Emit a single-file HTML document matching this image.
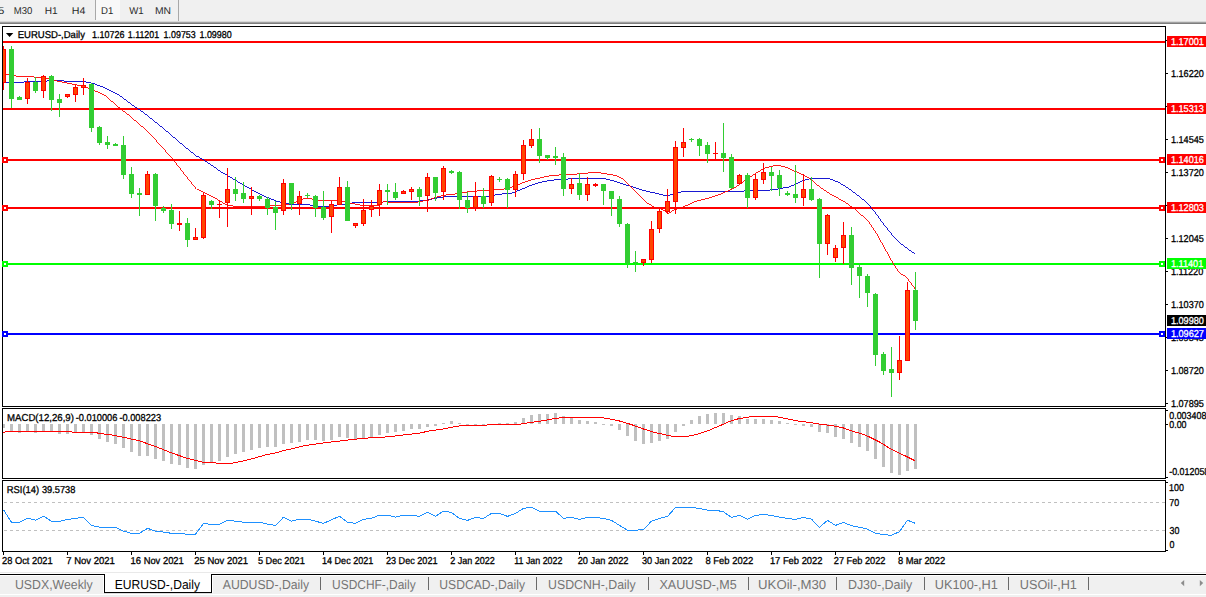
<!DOCTYPE html>
<html><head><meta charset="utf-8"><title>EURUSD-,Daily</title>
<style>
html,body{margin:0;padding:0;background:#fff;}
body{width:1206px;height:597px;overflow:hidden;position:relative;font-family:"Liberation Sans", sans-serif;}
svg{position:absolute;left:0;top:0;display:block}
text{font-family:"Liberation Sans", sans-serif;text-rendering:geometricPrecision;}
</style></head><body>
<svg width="1206" height="597" viewBox="0 0 1206 597">

<g shape-rendering="crispEdges">
<rect x="0" y="0" width="1206" height="21" fill="#f0f0f0"/>
<rect x="0" y="21" width="1206" height="1" fill="#d9d9d9"/>
<rect x="0" y="22" width="1206" height="1" fill="#a0a0a0"/>
<rect x="0" y="23" width="1206" height="1" fill="#7d7d7d"/>
<rect x="96" y="0" width="24" height="20" fill="#f8f8f8"/>
<rect x="95" y="0" width="1" height="20" fill="#a8a8a8"/>
<rect x="178" y="0" width="1" height="21" fill="#a8a8a8"/>
</g>
<text transform="translate(-1.96,14) scale(1.139,1)" font-size="10" fill="#2a2a2a" stroke="#2a2a2a" stroke-width="0">5</text>
<text transform="translate(13.82,14) scale(0.954,1)" font-size="10" fill="#2a2a2a" stroke="#2a2a2a" stroke-width="0">M30</text>
<text transform="translate(44.77,14) scale(1.011,1)" font-size="10" fill="#2a2a2a" stroke="#2a2a2a" stroke-width="0">H1</text>
<text transform="translate(71.73,14) scale(1.063,1)" font-size="10" fill="#2a2a2a" stroke="#2a2a2a" stroke-width="0">H4</text>
<text transform="translate(101.11,14) scale(0.959,1)" font-size="10" fill="#2a2a2a" stroke="#2a2a2a" stroke-width="0">D1</text>
<text transform="translate(129.16,14) scale(0.961,1)" font-size="10" fill="#2a2a2a" stroke="#2a2a2a" stroke-width="0">W1</text>
<text transform="translate(154.95,14) scale(1.035,1)" font-size="10" fill="#2a2a2a" stroke="#2a2a2a" stroke-width="0">MN</text>
<g shape-rendering="crispEdges" fill="none" stroke="#000" stroke-width="1">
<rect x="2.5" y="26.5" width="1163" height="380"/>
<rect x="2.5" y="408.5" width="1163" height="70"/>
<rect x="2.5" y="480.5" width="1163" height="71"/>
</g>
<defs><clipPath id="cm"><rect x="3" y="27" width="1162" height="379"/></clipPath></defs>
<g shape-rendering="crispEdges">
<rect x="1166" y="40" width="2" height="1" fill="#000"/>
<rect x="1166" y="73" width="2" height="1" fill="#000"/>
<rect x="1166" y="106" width="2" height="1" fill="#000"/>
<rect x="1166" y="139" width="2" height="1" fill="#000"/>
<rect x="1166" y="172" width="2" height="1" fill="#000"/>
<rect x="1166" y="205" width="2" height="1" fill="#000"/>
<rect x="1166" y="238" width="2" height="1" fill="#000"/>
<rect x="1166" y="271" width="2" height="1" fill="#000"/>
<rect x="1166" y="304" width="2" height="1" fill="#000"/>
<rect x="1166" y="337" width="2" height="1" fill="#000"/>
<rect x="1166" y="370" width="2" height="1" fill="#000"/>
<rect x="1166" y="403" width="2" height="1" fill="#000"/>
</g>
<text transform="translate(1170.91,77) scale(0.912,1)" font-size="10" fill="#000" stroke="#000" stroke-width="0.3">1.16220</text>
<text transform="translate(1170.91,143) scale(0.912,1)" font-size="10" fill="#000" stroke="#000" stroke-width="0.3">1.14545</text>
<text transform="translate(1170.91,176) scale(0.912,1)" font-size="10" fill="#000" stroke="#000" stroke-width="0.3">1.13720</text>
<text transform="translate(1170.91,242) scale(0.912,1)" font-size="10" fill="#000" stroke="#000" stroke-width="0.3">1.12045</text>
<text transform="translate(1170.91,275) scale(0.912,1)" font-size="10" fill="#000" stroke="#000" stroke-width="0.3">1.11220</text>
<text transform="translate(1170.91,308) scale(0.912,1)" font-size="10" fill="#000" stroke="#000" stroke-width="0.3">1.10370</text>
<text transform="translate(1170.91,341) scale(0.912,1)" font-size="10" fill="#000" stroke="#000" stroke-width="0.3">1.09545</text>
<text transform="translate(1170.91,374) scale(0.912,1)" font-size="10" fill="#000" stroke="#000" stroke-width="0.3">1.08720</text>
<text transform="translate(1170.91,407) scale(0.912,1)" font-size="10" fill="#000" stroke="#000" stroke-width="0.3">1.07895</text>
<g shape-rendering="crispEdges">
<rect x="3" y="41" width="1162" height="2" fill="#ff0000"/>
<rect x="1167" y="36" width="39" height="11" fill="#ff0000"/>
<rect x="3" y="108" width="1162" height="2" fill="#ff0000"/>
<rect x="1167" y="103" width="39" height="11" fill="#ff0000"/>
<rect x="3" y="159" width="1162" height="2" fill="#ff0000"/>
<rect x="1167" y="154" width="39" height="11" fill="#ff0000"/>
<rect x="2" y="157" width="6" height="6" fill="#ff0000"/>
<rect x="4" y="159" width="2" height="2" fill="#fff"/>
<rect x="1159" y="157" width="6" height="6" fill="#ff0000"/>
<rect x="1161" y="159" width="2" height="2" fill="#fff"/>
<rect x="3" y="207" width="1162" height="2" fill="#ff0000"/>
<rect x="1167" y="202" width="39" height="11" fill="#ff0000"/>
<rect x="2" y="205" width="6" height="6" fill="#ff0000"/>
<rect x="4" y="207" width="2" height="2" fill="#fff"/>
<rect x="1159" y="205" width="6" height="6" fill="#ff0000"/>
<rect x="1161" y="207" width="2" height="2" fill="#fff"/>
<rect x="3" y="263" width="1162" height="2" fill="#00ff00"/>
<rect x="1167" y="258" width="39" height="11" fill="#00ff00"/>
<rect x="2" y="261" width="6" height="6" fill="#00ff00"/>
<rect x="4" y="263" width="2" height="2" fill="#fff"/>
<rect x="1159" y="261" width="6" height="6" fill="#00ff00"/>
<rect x="1161" y="263" width="2" height="2" fill="#fff"/>
<rect x="3" y="333" width="1162" height="2" fill="#0000ff"/>
<rect x="1167" y="328" width="39" height="11" fill="#0000ff"/>
<rect x="2" y="331" width="6" height="6" fill="#0000ff"/>
<rect x="4" y="333" width="2" height="2" fill="#fff"/>
<rect x="1159" y="331" width="6" height="6" fill="#0000ff"/>
<rect x="1161" y="333" width="2" height="2" fill="#fff"/>
<rect x="1167" y="315" width="39" height="11" fill="#000"/>
</g>
<text transform="translate(1170.90,45) scale(0.914,1)" font-size="10" fill="#fff" stroke="#fff" stroke-width="0.3">1.17001</text>
<text transform="translate(1170.90,112) scale(0.913,1)" font-size="10" fill="#fff" stroke="#fff" stroke-width="0.3">1.15313</text>
<text transform="translate(1170.90,163) scale(0.913,1)" font-size="10" fill="#fff" stroke="#fff" stroke-width="0.3">1.14016</text>
<text transform="translate(1170.90,211) scale(0.913,1)" font-size="10" fill="#fff" stroke="#fff" stroke-width="0.3">1.12803</text>
<text transform="translate(1170.90,267) scale(0.914,1)" font-size="10" fill="#fff" stroke="#fff" stroke-width="0.3">1.11401</text>
<text transform="translate(1170.90,337) scale(0.914,1)" font-size="10" fill="#fff" stroke="#fff" stroke-width="0.3">1.09627</text>
<text transform="translate(1170.91,324) scale(0.912,1)" font-size="10" fill="#fff" stroke="#fff" stroke-width="0.3">1.09980</text>
<g clip-path="url(#cm)" shape-rendering="crispEdges">
<polyline points="3.0,82.6 22.8,82.6 24.5,81.5 45.6,81.5 48.3,80.3 63.0,80.3 64.5,81.1 83.1,81.1 87.1,82.2 93.8,83.6 104.6,87.8 115.3,93.0 120.6,96.3 132.7,105.3 144.7,113.4 165.3,130.0 180.4,143.1 196.5,156.1 204.5,161.2 216.6,169.2 228.6,176.2 240.7,183.3 252.8,190.3 264.8,196.3 276.9,201.4 289.0,204.0 301.0,204.4 309.0,204.8 317.0,206.4 329.0,206.0 342.0,204.4 354.0,202.8 362.0,202.0 370.0,202.8 378.0,202.4 390.0,201.4 406.0,201.8 418.0,201.4 426.5,200.0 434.5,198.4 442.6,196.8 454.6,196.4 474.7,196.4 490.8,196.0 496.8,194.4 510.9,193.4 519.0,190.4 531.0,185.3 539.0,182.7 551.0,180.3 561.0,179.3 567.0,179.3 571.0,178.3 603.0,178.3 615.3,181.3 627.4,185.3 639.4,189.3 651.5,192.4 663.5,195.4 671.6,194.8 683.6,191.4 735.9,191.4 748.0,190.8 764.0,190.8 776.0,189.3 788.0,187.2 796.0,184.2 804.0,180.2 812.0,178.1 828.0,178.1 838.3,182.2 848.3,188.2 860.4,197.2 868.4,204.3 876.5,214.3 884.5,225.4 892.6,235.4 900.6,243.5 908.6,249.5 914.7,253.5" fill="none" stroke="#0000cd" stroke-width="0.9"/>
<polyline points="3.0,74.2 8.0,74.6 13.4,75.2 17.4,76.3 30.0,76.8 40.2,77.3 48.3,78.3 53.6,80.2 63.0,82.2 75.1,84.5 85.8,86.9 96.5,91.8 107.2,97.2 118.0,106.8 128.7,115.0 140.7,125.4 146.2,130.0 160.3,145.1 174.4,161.2 184.4,174.2 196.5,189.3 204.5,193.3 216.6,199.3 226.6,204.8 232.7,206.0 253.0,206.5 281.0,205.4 293.0,203.4 301.0,199.3 309.0,198.3 317.0,200.0 329.0,200.4 342.0,201.4 352.0,203.4 362.0,205.4 370.0,205.4 380.0,205.4 384.0,201.4 392.0,202.8 406.0,202.8 418.0,202.0 426.5,200.4 434.5,197.4 442.6,195.4 454.6,194.0 466.7,192.0 478.7,190.8 490.8,190.8 494.8,189.3 502.9,189.3 510.9,187.3 523.0,182.7 531.0,179.9 543.0,177.3 553.0,175.3 561.0,174.9 567.0,174.7 579.0,173.9 595.0,172.3 603.0,173.3 615.3,175.3 623.3,179.3 631.4,187.3 639.4,195.4 647.5,203.4 653.5,207.4 659.5,208.4 667.6,213.5 675.6,209.4 683.6,206.8 695.7,201.4 707.8,198.4 719.8,194.4 731.9,189.3 739.9,184.3 748.0,178.3 756.0,173.3 764.0,168.2 772.0,166.2 778.0,165.2 786.0,167.2 792.0,170.1 804.0,175.1 812.0,180.2 820.0,187.2 832.0,195.2 844.0,201.3 856.4,210.3 868.4,221.4 876.5,233.4 884.5,248.0 893.8,264.7 900.5,274.1 907.2,278.2 915.8,289.7" fill="none" stroke="#ff0000" stroke-width="0.9"/>
</g>
<g shape-rendering="crispEdges" clip-path="url(#cm)">
<rect x="3" y="46" width="1" height="44" fill="#ff0000"/>
<rect x="1" y="49" width="5" height="34" fill="#ff0000"/>
<rect x="2" y="50" width="3" height="32" fill="#ff4500"/>
<rect x="11" y="46" width="1" height="62" fill="#32cd32"/>
<rect x="9" y="49" width="5" height="50" fill="#32cd32"/>
<rect x="19" y="96" width="1" height="4" fill="#32cd32"/>
<rect x="17" y="97" width="5" height="3" fill="#32cd32"/>
<rect x="27" y="78" width="1" height="26" fill="#ff0000"/>
<rect x="25" y="82" width="5" height="17" fill="#ff0000"/>
<rect x="26" y="83" width="3" height="15" fill="#ff4500"/>
<rect x="35" y="77" width="1" height="16" fill="#32cd32"/>
<rect x="33" y="82" width="5" height="9" fill="#32cd32"/>
<rect x="43" y="75" width="1" height="23" fill="#ff0000"/>
<rect x="41" y="76" width="5" height="15" fill="#ff0000"/>
<rect x="42" y="77" width="3" height="13" fill="#ff4500"/>
<rect x="51" y="75" width="1" height="36" fill="#32cd32"/>
<rect x="49" y="76" width="5" height="24" fill="#32cd32"/>
<rect x="59" y="94" width="1" height="23" fill="#32cd32"/>
<rect x="57" y="99" width="5" height="4" fill="#32cd32"/>
<rect x="67" y="94" width="1" height="4" fill="#ff0000"/>
<rect x="65" y="94" width="5" height="3" fill="#ff0000"/>
<rect x="66" y="95" width="3" height="1" fill="#ff4500"/>
<rect x="75" y="85" width="1" height="17" fill="#ff0000"/>
<rect x="73" y="87" width="5" height="8" fill="#ff0000"/>
<rect x="74" y="88" width="3" height="6" fill="#ff4500"/>
<rect x="83" y="78" width="1" height="17" fill="#ff0000"/>
<rect x="81" y="85" width="5" height="3" fill="#ff0000"/>
<rect x="82" y="86" width="3" height="1" fill="#ff4500"/>
<rect x="91" y="83" width="1" height="49" fill="#32cd32"/>
<rect x="89" y="84" width="5" height="44" fill="#32cd32"/>
<rect x="99" y="126" width="1" height="19" fill="#32cd32"/>
<rect x="97" y="127" width="5" height="16" fill="#32cd32"/>
<rect x="107" y="136" width="1" height="13" fill="#32cd32"/>
<rect x="105" y="142" width="5" height="3" fill="#32cd32"/>
<rect x="115" y="143" width="1" height="3" fill="#32cd32"/>
<rect x="113" y="144" width="5" height="2" fill="#32cd32"/>
<rect x="123" y="136" width="1" height="43" fill="#32cd32"/>
<rect x="121" y="145" width="5" height="30" fill="#32cd32"/>
<rect x="131" y="167" width="1" height="31" fill="#32cd32"/>
<rect x="129" y="174" width="5" height="20" fill="#32cd32"/>
<rect x="139" y="188" width="1" height="28" fill="#32cd32"/>
<rect x="137" y="193" width="5" height="2" fill="#32cd32"/>
<rect x="147" y="171" width="1" height="24" fill="#ff0000"/>
<rect x="145" y="174" width="5" height="21" fill="#ff0000"/>
<rect x="146" y="175" width="3" height="19" fill="#ff4500"/>
<rect x="155" y="173" width="1" height="48" fill="#32cd32"/>
<rect x="153" y="174" width="5" height="32" fill="#32cd32"/>
<rect x="163" y="206" width="1" height="7" fill="#32cd32"/>
<rect x="161" y="208" width="5" height="3" fill="#32cd32"/>
<rect x="171" y="204" width="1" height="25" fill="#32cd32"/>
<rect x="169" y="210" width="5" height="14" fill="#32cd32"/>
<rect x="179" y="211" width="1" height="20" fill="#ff0000"/>
<rect x="177" y="223" width="5" height="2" fill="#ff0000"/>
<rect x="187" y="218" width="1" height="29" fill="#32cd32"/>
<rect x="185" y="223" width="5" height="17" fill="#32cd32"/>
<rect x="195" y="228" width="1" height="12" fill="#ff0000"/>
<rect x="193" y="237" width="5" height="3" fill="#ff0000"/>
<rect x="194" y="238" width="3" height="1" fill="#ff4500"/>
<rect x="203" y="193" width="1" height="46" fill="#ff0000"/>
<rect x="201" y="195" width="5" height="43" fill="#ff0000"/>
<rect x="202" y="196" width="3" height="41" fill="#ff4500"/>
<rect x="211" y="200" width="1" height="9" fill="#32cd32"/>
<rect x="209" y="201" width="5" height="4" fill="#32cd32"/>
<rect x="219" y="201" width="1" height="17" fill="#ff0000"/>
<rect x="217" y="204" width="5" height="1" fill="#ff0000"/>
<rect x="227" y="168" width="1" height="59" fill="#ff0000"/>
<rect x="225" y="189" width="5" height="14" fill="#ff0000"/>
<rect x="226" y="190" width="3" height="12" fill="#ff4500"/>
<rect x="235" y="177" width="1" height="24" fill="#32cd32"/>
<rect x="233" y="189" width="5" height="5" fill="#32cd32"/>
<rect x="243" y="182" width="1" height="21" fill="#32cd32"/>
<rect x="241" y="193" width="5" height="6" fill="#32cd32"/>
<rect x="251" y="187" width="1" height="28" fill="#ff0000"/>
<rect x="249" y="196" width="5" height="3" fill="#ff0000"/>
<rect x="250" y="197" width="3" height="1" fill="#ff4500"/>
<rect x="259" y="195" width="1" height="6" fill="#32cd32"/>
<rect x="257" y="196" width="5" height="3" fill="#32cd32"/>
<rect x="267" y="197" width="1" height="18" fill="#32cd32"/>
<rect x="265" y="199" width="5" height="9" fill="#32cd32"/>
<rect x="275" y="201" width="1" height="29" fill="#32cd32"/>
<rect x="273" y="207" width="5" height="6" fill="#32cd32"/>
<rect x="283" y="179" width="1" height="36" fill="#ff0000"/>
<rect x="281" y="183" width="5" height="28" fill="#ff0000"/>
<rect x="282" y="184" width="3" height="26" fill="#ff4500"/>
<rect x="291" y="183" width="1" height="27" fill="#32cd32"/>
<rect x="289" y="183" width="5" height="21" fill="#32cd32"/>
<rect x="299" y="191" width="1" height="24" fill="#ff0000"/>
<rect x="297" y="196" width="5" height="8" fill="#ff0000"/>
<rect x="298" y="197" width="3" height="6" fill="#ff4500"/>
<rect x="307" y="193" width="1" height="5" fill="#32cd32"/>
<rect x="305" y="195" width="5" height="1" fill="#32cd32"/>
<rect x="315" y="195" width="1" height="22" fill="#32cd32"/>
<rect x="313" y="196" width="5" height="12" fill="#32cd32"/>
<rect x="323" y="191" width="1" height="29" fill="#32cd32"/>
<rect x="321" y="207" width="5" height="11" fill="#32cd32"/>
<rect x="331" y="201" width="1" height="32" fill="#ff0000"/>
<rect x="329" y="204" width="5" height="13" fill="#ff0000"/>
<rect x="330" y="205" width="3" height="11" fill="#ff4500"/>
<rect x="339" y="177" width="1" height="28" fill="#ff0000"/>
<rect x="337" y="187" width="5" height="18" fill="#ff0000"/>
<rect x="338" y="188" width="3" height="16" fill="#ff4500"/>
<rect x="347" y="181" width="1" height="40" fill="#32cd32"/>
<rect x="345" y="187" width="5" height="34" fill="#32cd32"/>
<rect x="355" y="223" width="1" height="5" fill="#ff0000"/>
<rect x="353" y="223" width="5" height="3" fill="#ff0000"/>
<rect x="354" y="224" width="3" height="1" fill="#ff4500"/>
<rect x="363" y="199" width="1" height="27" fill="#ff0000"/>
<rect x="361" y="210" width="5" height="14" fill="#ff0000"/>
<rect x="362" y="211" width="3" height="12" fill="#ff4500"/>
<rect x="371" y="200" width="1" height="17" fill="#ff0000"/>
<rect x="369" y="206" width="5" height="4" fill="#ff0000"/>
<rect x="370" y="207" width="3" height="2" fill="#ff4500"/>
<rect x="379" y="184" width="1" height="32" fill="#ff0000"/>
<rect x="377" y="190" width="5" height="15" fill="#ff0000"/>
<rect x="378" y="191" width="3" height="13" fill="#ff4500"/>
<rect x="387" y="184" width="1" height="21" fill="#32cd32"/>
<rect x="385" y="190" width="5" height="2" fill="#32cd32"/>
<rect x="395" y="183" width="1" height="17" fill="#32cd32"/>
<rect x="393" y="192" width="5" height="6" fill="#32cd32"/>
<rect x="403" y="190" width="1" height="4" fill="#ff0000"/>
<rect x="401" y="191" width="5" height="3" fill="#ff0000"/>
<rect x="402" y="192" width="3" height="1" fill="#ff4500"/>
<rect x="411" y="187" width="1" height="13" fill="#ff0000"/>
<rect x="409" y="189" width="5" height="3" fill="#ff0000"/>
<rect x="410" y="190" width="3" height="1" fill="#ff4500"/>
<rect x="419" y="187" width="1" height="19" fill="#32cd32"/>
<rect x="417" y="189" width="5" height="8" fill="#32cd32"/>
<rect x="427" y="173" width="1" height="39" fill="#ff0000"/>
<rect x="425" y="177" width="5" height="19" fill="#ff0000"/>
<rect x="426" y="178" width="3" height="17" fill="#ff4500"/>
<rect x="435" y="177" width="1" height="24" fill="#32cd32"/>
<rect x="433" y="177" width="5" height="16" fill="#32cd32"/>
<rect x="443" y="166" width="1" height="34" fill="#ff0000"/>
<rect x="441" y="168" width="5" height="24" fill="#ff0000"/>
<rect x="442" y="169" width="3" height="22" fill="#ff4500"/>
<rect x="451" y="170" width="1" height="4" fill="#32cd32"/>
<rect x="449" y="171" width="5" height="2" fill="#32cd32"/>
<rect x="459" y="171" width="1" height="38" fill="#32cd32"/>
<rect x="457" y="172" width="5" height="28" fill="#32cd32"/>
<rect x="467" y="192" width="1" height="21" fill="#32cd32"/>
<rect x="465" y="200" width="5" height="8" fill="#32cd32"/>
<rect x="475" y="182" width="1" height="29" fill="#ff0000"/>
<rect x="473" y="196" width="5" height="12" fill="#ff0000"/>
<rect x="474" y="197" width="3" height="10" fill="#ff4500"/>
<rect x="483" y="188" width="1" height="20" fill="#32cd32"/>
<rect x="481" y="196" width="5" height="8" fill="#32cd32"/>
<rect x="491" y="175" width="1" height="31" fill="#ff0000"/>
<rect x="489" y="176" width="5" height="27" fill="#ff0000"/>
<rect x="490" y="177" width="3" height="25" fill="#ff4500"/>
<rect x="499" y="177" width="1" height="5" fill="#32cd32"/>
<rect x="497" y="179" width="5" height="1" fill="#32cd32"/>
<rect x="507" y="178" width="1" height="30" fill="#32cd32"/>
<rect x="505" y="179" width="5" height="11" fill="#32cd32"/>
<rect x="515" y="171" width="1" height="26" fill="#ff0000"/>
<rect x="513" y="174" width="5" height="16" fill="#ff0000"/>
<rect x="514" y="175" width="3" height="14" fill="#ff4500"/>
<rect x="523" y="140" width="1" height="40" fill="#ff0000"/>
<rect x="521" y="145" width="5" height="29" fill="#ff0000"/>
<rect x="522" y="146" width="3" height="27" fill="#ff4500"/>
<rect x="531" y="129" width="1" height="19" fill="#ff0000"/>
<rect x="529" y="139" width="5" height="7" fill="#ff0000"/>
<rect x="530" y="140" width="3" height="5" fill="#ff4500"/>
<rect x="539" y="128" width="1" height="35" fill="#32cd32"/>
<rect x="537" y="139" width="5" height="17" fill="#32cd32"/>
<rect x="547" y="155" width="1" height="5" fill="#32cd32"/>
<rect x="545" y="155" width="5" height="3" fill="#32cd32"/>
<rect x="555" y="147" width="1" height="18" fill="#32cd32"/>
<rect x="553" y="156" width="5" height="2" fill="#32cd32"/>
<rect x="563" y="153" width="1" height="43" fill="#32cd32"/>
<rect x="561" y="157" width="5" height="32" fill="#32cd32"/>
<rect x="571" y="178" width="1" height="16" fill="#ff0000"/>
<rect x="569" y="184" width="5" height="5" fill="#ff0000"/>
<rect x="570" y="185" width="3" height="3" fill="#ff4500"/>
<rect x="579" y="173" width="1" height="27" fill="#32cd32"/>
<rect x="577" y="183" width="5" height="12" fill="#32cd32"/>
<rect x="587" y="177" width="1" height="24" fill="#ff0000"/>
<rect x="585" y="184" width="5" height="11" fill="#ff0000"/>
<rect x="586" y="185" width="3" height="9" fill="#ff4500"/>
<rect x="595" y="183" width="1" height="4" fill="#ff0000"/>
<rect x="593" y="184" width="5" height="2" fill="#ff0000"/>
<rect x="603" y="184" width="1" height="21" fill="#32cd32"/>
<rect x="601" y="184" width="5" height="7" fill="#32cd32"/>
<rect x="611" y="191" width="1" height="25" fill="#32cd32"/>
<rect x="609" y="191" width="5" height="8" fill="#32cd32"/>
<rect x="619" y="196" width="1" height="31" fill="#32cd32"/>
<rect x="617" y="199" width="5" height="25" fill="#32cd32"/>
<rect x="627" y="223" width="1" height="45" fill="#32cd32"/>
<rect x="625" y="224" width="5" height="39" fill="#32cd32"/>
<rect x="635" y="251" width="1" height="21" fill="#32cd32"/>
<rect x="633" y="262" width="5" height="1" fill="#32cd32"/>
<rect x="643" y="259" width="1" height="7" fill="#ff0000"/>
<rect x="641" y="259" width="5" height="4" fill="#ff0000"/>
<rect x="642" y="260" width="3" height="2" fill="#ff4500"/>
<rect x="651" y="221" width="1" height="42" fill="#ff0000"/>
<rect x="649" y="229" width="5" height="31" fill="#ff0000"/>
<rect x="650" y="230" width="3" height="29" fill="#ff4500"/>
<rect x="659" y="208" width="1" height="25" fill="#ff0000"/>
<rect x="657" y="211" width="5" height="18" fill="#ff0000"/>
<rect x="658" y="212" width="3" height="16" fill="#ff4500"/>
<rect x="667" y="189" width="1" height="25" fill="#ff0000"/>
<rect x="665" y="201" width="5" height="11" fill="#ff0000"/>
<rect x="666" y="202" width="3" height="9" fill="#ff4500"/>
<rect x="675" y="141" width="1" height="73" fill="#ff0000"/>
<rect x="673" y="147" width="5" height="55" fill="#ff0000"/>
<rect x="674" y="148" width="3" height="53" fill="#ff4500"/>
<rect x="683" y="128" width="1" height="29" fill="#ff0000"/>
<rect x="681" y="142" width="5" height="6" fill="#ff0000"/>
<rect x="682" y="143" width="3" height="4" fill="#ff4500"/>
<rect x="691" y="138" width="1" height="4" fill="#32cd32"/>
<rect x="689" y="139" width="5" height="1" fill="#32cd32"/>
<rect x="699" y="138" width="1" height="18" fill="#32cd32"/>
<rect x="697" y="139" width="5" height="7" fill="#32cd32"/>
<rect x="707" y="142" width="1" height="21" fill="#32cd32"/>
<rect x="705" y="145" width="5" height="9" fill="#32cd32"/>
<rect x="715" y="142" width="1" height="17" fill="#ff0000"/>
<rect x="713" y="153" width="5" height="1" fill="#ff0000"/>
<rect x="723" y="123" width="1" height="49" fill="#32cd32"/>
<rect x="721" y="153" width="5" height="5" fill="#32cd32"/>
<rect x="731" y="154" width="1" height="35" fill="#32cd32"/>
<rect x="729" y="157" width="5" height="31" fill="#32cd32"/>
<rect x="739" y="174" width="1" height="10" fill="#ff0000"/>
<rect x="737" y="175" width="5" height="9" fill="#ff0000"/>
<rect x="738" y="176" width="3" height="7" fill="#ff4500"/>
<rect x="747" y="173" width="1" height="35" fill="#32cd32"/>
<rect x="745" y="175" width="5" height="23" fill="#32cd32"/>
<rect x="755" y="174" width="1" height="26" fill="#ff0000"/>
<rect x="753" y="179" width="5" height="19" fill="#ff0000"/>
<rect x="754" y="180" width="3" height="17" fill="#ff4500"/>
<rect x="763" y="163" width="1" height="21" fill="#ff0000"/>
<rect x="761" y="172" width="5" height="8" fill="#ff0000"/>
<rect x="762" y="173" width="3" height="6" fill="#ff4500"/>
<rect x="771" y="167" width="1" height="24" fill="#32cd32"/>
<rect x="769" y="172" width="5" height="4" fill="#32cd32"/>
<rect x="779" y="170" width="1" height="26" fill="#32cd32"/>
<rect x="777" y="175" width="5" height="13" fill="#32cd32"/>
<rect x="787" y="191" width="1" height="5" fill="#32cd32"/>
<rect x="785" y="193" width="5" height="2" fill="#32cd32"/>
<rect x="795" y="165" width="1" height="38" fill="#32cd32"/>
<rect x="793" y="194" width="5" height="4" fill="#32cd32"/>
<rect x="803" y="174" width="1" height="32" fill="#ff0000"/>
<rect x="801" y="189" width="5" height="9" fill="#ff0000"/>
<rect x="802" y="190" width="3" height="7" fill="#ff4500"/>
<rect x="811" y="177" width="1" height="24" fill="#32cd32"/>
<rect x="809" y="189" width="5" height="11" fill="#32cd32"/>
<rect x="819" y="198" width="1" height="80" fill="#32cd32"/>
<rect x="817" y="199" width="5" height="45" fill="#32cd32"/>
<rect x="827" y="214" width="1" height="41" fill="#ff0000"/>
<rect x="825" y="215" width="5" height="29" fill="#ff0000"/>
<rect x="826" y="216" width="3" height="27" fill="#ff4500"/>
<rect x="835" y="245" width="1" height="17" fill="#ff0000"/>
<rect x="833" y="248" width="5" height="10" fill="#ff0000"/>
<rect x="834" y="249" width="3" height="8" fill="#ff4500"/>
<rect x="843" y="222" width="1" height="42" fill="#ff0000"/>
<rect x="841" y="235" width="5" height="13" fill="#ff0000"/>
<rect x="842" y="236" width="3" height="11" fill="#ff4500"/>
<rect x="851" y="227" width="1" height="58" fill="#32cd32"/>
<rect x="849" y="235" width="5" height="33" fill="#32cd32"/>
<rect x="859" y="263" width="1" height="35" fill="#32cd32"/>
<rect x="857" y="267" width="5" height="9" fill="#32cd32"/>
<rect x="867" y="274" width="1" height="33" fill="#32cd32"/>
<rect x="865" y="276" width="5" height="17" fill="#32cd32"/>
<rect x="875" y="293" width="1" height="73" fill="#32cd32"/>
<rect x="873" y="294" width="5" height="61" fill="#32cd32"/>
<rect x="883" y="352" width="1" height="23" fill="#32cd32"/>
<rect x="881" y="354" width="5" height="17" fill="#32cd32"/>
<rect x="891" y="347" width="1" height="50" fill="#32cd32"/>
<rect x="889" y="369" width="5" height="4" fill="#32cd32"/>
<rect x="899" y="336" width="1" height="44" fill="#ff0000"/>
<rect x="897" y="360" width="5" height="13" fill="#ff0000"/>
<rect x="898" y="361" width="3" height="11" fill="#ff4500"/>
<rect x="907" y="282" width="1" height="79" fill="#ff0000"/>
<rect x="905" y="290" width="5" height="71" fill="#ff0000"/>
<rect x="906" y="291" width="3" height="69" fill="#ff4500"/>
<rect x="915" y="272" width="1" height="58" fill="#32cd32"/>
<rect x="913" y="290" width="5" height="31" fill="#32cd32"/>
</g>
<path d="M5.9 33h7.4l-3.7 4.1z" fill="#000"/>
<text transform="translate(17.72,38) scale(0.952,1)" font-size="10" fill="#000" stroke="#000" stroke-width="0.3">EURUSD-,Daily</text>
<text transform="translate(92.02,38) scale(0.896,1)" font-size="10" fill="#000" stroke="#000" stroke-width="0.3">1.10726</text>
<text transform="translate(127.83,38) scale(0.883,1)" font-size="10" fill="#000" stroke="#000" stroke-width="0.3">1.11201</text>
<text transform="translate(163.62,38) scale(0.887,1)" font-size="10" fill="#000" stroke="#000" stroke-width="0.3">1.09753</text>
<text transform="translate(199.42,38) scale(0.894,1)" font-size="10" fill="#000" stroke="#000" stroke-width="0.3">1.09980</text>
<g shape-rendering="crispEdges">
<rect x="2" y="424" width="3" height="4" fill="#c0c0c0"/>
<rect x="10" y="424" width="3" height="8" fill="#c0c0c0"/>
<rect x="18" y="424" width="3" height="9" fill="#c0c0c0"/>
<rect x="26" y="424" width="3" height="8" fill="#c0c0c0"/>
<rect x="34" y="424" width="3" height="9" fill="#c0c0c0"/>
<rect x="42" y="424" width="3" height="8" fill="#c0c0c0"/>
<rect x="50" y="424" width="3" height="8" fill="#c0c0c0"/>
<rect x="58" y="424" width="3" height="10" fill="#c0c0c0"/>
<rect x="66" y="424" width="3" height="10" fill="#c0c0c0"/>
<rect x="74" y="424" width="3" height="8" fill="#c0c0c0"/>
<rect x="82" y="424" width="3" height="8" fill="#c0c0c0"/>
<rect x="90" y="424" width="3" height="11" fill="#c0c0c0"/>
<rect x="98" y="424" width="3" height="15" fill="#c0c0c0"/>
<rect x="106" y="424" width="3" height="18" fill="#c0c0c0"/>
<rect x="114" y="424" width="3" height="20" fill="#c0c0c0"/>
<rect x="122" y="424" width="3" height="24" fill="#c0c0c0"/>
<rect x="130" y="424" width="3" height="28" fill="#c0c0c0"/>
<rect x="138" y="424" width="3" height="32" fill="#c0c0c0"/>
<rect x="146" y="424" width="3" height="32" fill="#c0c0c0"/>
<rect x="154" y="424" width="3" height="35" fill="#c0c0c0"/>
<rect x="162" y="424" width="3" height="37" fill="#c0c0c0"/>
<rect x="170" y="424" width="3" height="40" fill="#c0c0c0"/>
<rect x="178" y="424" width="3" height="41" fill="#c0c0c0"/>
<rect x="186" y="424" width="3" height="44" fill="#c0c0c0"/>
<rect x="194" y="424" width="3" height="45" fill="#c0c0c0"/>
<rect x="202" y="424" width="3" height="41" fill="#c0c0c0"/>
<rect x="210" y="424" width="3" height="39" fill="#c0c0c0"/>
<rect x="218" y="424" width="3" height="37" fill="#c0c0c0"/>
<rect x="226" y="424" width="3" height="33" fill="#c0c0c0"/>
<rect x="234" y="424" width="3" height="30" fill="#c0c0c0"/>
<rect x="242" y="424" width="3" height="28" fill="#c0c0c0"/>
<rect x="250" y="424" width="3" height="26" fill="#c0c0c0"/>
<rect x="258" y="424" width="3" height="24" fill="#c0c0c0"/>
<rect x="266" y="424" width="3" height="23" fill="#c0c0c0"/>
<rect x="274" y="424" width="3" height="23" fill="#c0c0c0"/>
<rect x="282" y="424" width="3" height="20" fill="#c0c0c0"/>
<rect x="290" y="424" width="3" height="19" fill="#c0c0c0"/>
<rect x="298" y="424" width="3" height="18" fill="#c0c0c0"/>
<rect x="306" y="424" width="3" height="16" fill="#c0c0c0"/>
<rect x="314" y="424" width="3" height="16" fill="#c0c0c0"/>
<rect x="322" y="424" width="3" height="17" fill="#c0c0c0"/>
<rect x="330" y="424" width="3" height="16" fill="#c0c0c0"/>
<rect x="338" y="424" width="3" height="13" fill="#c0c0c0"/>
<rect x="346" y="424" width="3" height="14" fill="#c0c0c0"/>
<rect x="354" y="424" width="3" height="15" fill="#c0c0c0"/>
<rect x="362" y="424" width="3" height="14" fill="#c0c0c0"/>
<rect x="370" y="424" width="3" height="13" fill="#c0c0c0"/>
<rect x="378" y="424" width="3" height="11" fill="#c0c0c0"/>
<rect x="386" y="424" width="3" height="9" fill="#c0c0c0"/>
<rect x="394" y="424" width="3" height="8" fill="#c0c0c0"/>
<rect x="402" y="424" width="3" height="7" fill="#c0c0c0"/>
<rect x="410" y="424" width="3" height="5" fill="#c0c0c0"/>
<rect x="418" y="424" width="3" height="5" fill="#c0c0c0"/>
<rect x="426" y="424" width="3" height="3" fill="#c0c0c0"/>
<rect x="434" y="424" width="3" height="2" fill="#c0c0c0"/>
<rect x="442" y="423" width="3" height="1" fill="#c0c0c0"/>
<rect x="450" y="421" width="3" height="3" fill="#c0c0c0"/>
<rect x="458" y="423" width="3" height="1" fill="#c0c0c0"/>
<rect x="466" y="424" width="3" height="1" fill="#c0c0c0"/>
<rect x="474" y="424" width="3" height="1" fill="#c0c0c0"/>
<rect x="482" y="424" width="3" height="2" fill="#c0c0c0"/>
<rect x="490" y="424" width="3" height="1" fill="#c0c0c0"/>
<rect x="498" y="423" width="3" height="1" fill="#c0c0c0"/>
<rect x="506" y="423" width="3" height="1" fill="#c0c0c0"/>
<rect x="514" y="422" width="3" height="2" fill="#c0c0c0"/>
<rect x="522" y="418" width="3" height="6" fill="#c0c0c0"/>
<rect x="530" y="415" width="3" height="9" fill="#c0c0c0"/>
<rect x="538" y="414" width="3" height="10" fill="#c0c0c0"/>
<rect x="546" y="414" width="3" height="10" fill="#c0c0c0"/>
<rect x="554" y="413" width="3" height="11" fill="#c0c0c0"/>
<rect x="562" y="416" width="3" height="8" fill="#c0c0c0"/>
<rect x="570" y="417" width="3" height="7" fill="#c0c0c0"/>
<rect x="578" y="420" width="3" height="4" fill="#c0c0c0"/>
<rect x="586" y="421" width="3" height="3" fill="#c0c0c0"/>
<rect x="594" y="422" width="3" height="2" fill="#c0c0c0"/>
<rect x="602" y="424" width="3" height="1" fill="#c0c0c0"/>
<rect x="610" y="424" width="3" height="2" fill="#c0c0c0"/>
<rect x="618" y="424" width="3" height="6" fill="#c0c0c0"/>
<rect x="626" y="424" width="3" height="12" fill="#c0c0c0"/>
<rect x="634" y="424" width="3" height="17" fill="#c0c0c0"/>
<rect x="642" y="424" width="3" height="20" fill="#c0c0c0"/>
<rect x="650" y="424" width="3" height="19" fill="#c0c0c0"/>
<rect x="658" y="424" width="3" height="17" fill="#c0c0c0"/>
<rect x="666" y="424" width="3" height="15" fill="#c0c0c0"/>
<rect x="674" y="424" width="3" height="8" fill="#c0c0c0"/>
<rect x="682" y="424" width="3" height="2" fill="#c0c0c0"/>
<rect x="690" y="420" width="3" height="4" fill="#c0c0c0"/>
<rect x="698" y="416" width="3" height="8" fill="#c0c0c0"/>
<rect x="706" y="414" width="3" height="10" fill="#c0c0c0"/>
<rect x="714" y="413" width="3" height="11" fill="#c0c0c0"/>
<rect x="722" y="413" width="3" height="11" fill="#c0c0c0"/>
<rect x="730" y="415" width="3" height="9" fill="#c0c0c0"/>
<rect x="738" y="416" width="3" height="8" fill="#c0c0c0"/>
<rect x="746" y="419" width="3" height="5" fill="#c0c0c0"/>
<rect x="754" y="419" width="3" height="5" fill="#c0c0c0"/>
<rect x="762" y="419" width="3" height="5" fill="#c0c0c0"/>
<rect x="770" y="420" width="3" height="4" fill="#c0c0c0"/>
<rect x="778" y="421" width="3" height="3" fill="#c0c0c0"/>
<rect x="786" y="423" width="3" height="1" fill="#c0c0c0"/>
<rect x="794" y="424" width="3" height="1" fill="#c0c0c0"/>
<rect x="802" y="424" width="3" height="2" fill="#c0c0c0"/>
<rect x="810" y="424" width="3" height="3" fill="#c0c0c0"/>
<rect x="818" y="424" width="3" height="8" fill="#c0c0c0"/>
<rect x="826" y="424" width="3" height="9" fill="#c0c0c0"/>
<rect x="834" y="424" width="3" height="13" fill="#c0c0c0"/>
<rect x="842" y="424" width="3" height="15" fill="#c0c0c0"/>
<rect x="850" y="424" width="3" height="19" fill="#c0c0c0"/>
<rect x="858" y="424" width="3" height="23" fill="#c0c0c0"/>
<rect x="866" y="424" width="3" height="27" fill="#c0c0c0"/>
<rect x="874" y="424" width="3" height="35" fill="#c0c0c0"/>
<rect x="882" y="424" width="3" height="43" fill="#c0c0c0"/>
<rect x="890" y="424" width="3" height="49" fill="#c0c0c0"/>
<rect x="898" y="424" width="3" height="51" fill="#c0c0c0"/>
<rect x="906" y="424" width="3" height="47" fill="#c0c0c0"/>
<rect x="914" y="424" width="3" height="45" fill="#c0c0c0"/>
<rect x="2" y="408" width="1" height="71" fill="#000"/>
<rect x="1166" y="410" width="2" height="1" fill="#000"/>
<rect x="1166" y="424" width="2" height="1" fill="#000"/>
<rect x="1166" y="477" width="2" height="1" fill="#000"/>
</g>
<polyline points="3.0,432.5 8.0,431.3 69.7,431.5 73.6,432.5 95.5,432.5 99.5,433.5 111.4,434.9 123.4,437.2 139.3,440.8 155.2,446.4 171.1,452.8 187.1,458.3 203.0,462.3 214.9,462.7 218.9,463.7 228.9,463.7 241.9,461.3 253.9,458.3 265.8,454.8 277.8,452.4 283.7,450.4 293.7,448.4 305.6,445.4 317.6,443.8 329.5,442.2 341.4,440.8 353.4,439.4 365.3,438.2 377.3,437.4 389.2,436.8 401.1,435.2 413.1,433.9 421.0,432.9 429.0,430.9 440.9,429.3 448.9,427.9 456.9,426.3 464.8,425.3 471.9,425.3 485.9,425.3 487.9,424.5 517.7,424.5 527.7,422.9 539.6,421.3 547.6,419.9 555.5,418.3 567.5,417.3 599.3,417.3 607.3,418.5 619.2,420.9 631.1,424.5 643.1,428.9 655.0,432.5 667.0,435.2 672.9,436.4 686.9,436.4 694.8,434.9 698.0,433.9 709.9,429.9 721.8,424.9 729.8,421.3 737.8,418.9 749.7,416.9 775.6,416.5 785.5,418.5 797.5,420.9 809.4,422.5 821.3,424.3 833.3,425.9 843.2,427.9 853.2,431.5 861.1,433.5 869.1,436.8 881.0,442.8 891.0,449.2 900.9,453.8 908.9,457.7 914.9,460.7" fill="none" stroke="#ff0000" stroke-width="1" shape-rendering="crispEdges"/>
<text transform="translate(6.96,421) scale(0.964,1)" font-size="10" fill="#000" stroke="#000" stroke-width="0.3">MACD(12,26,9)</text>
<text transform="translate(75.69,421) scale(0.926,1)" font-size="10" fill="#000" stroke="#000" stroke-width="0.3">-0.010006</text>
<text transform="translate(119.39,421) scale(0.926,1)" font-size="10" fill="#000" stroke="#000" stroke-width="0.3">-0.008223</text>
<text transform="translate(1169.25,419) scale(0.890,1)" font-size="10" fill="#000" stroke="#000" stroke-width="0.3">0.003408</text>
<text transform="translate(1169.25,428) scale(0.890,1)" font-size="10" fill="#000" stroke="#000" stroke-width="0.3">0.00</text>
<text transform="translate(1169.20,475) scale(0.890,1)" font-size="10" fill="#000" stroke="#000" stroke-width="0.3">-0.012058</text>
<g shape-rendering="crispEdges">
<line x1="4" y1="502.5" x2="1165" y2="502.5" stroke="#c0c0c0" stroke-width="1" stroke-dasharray="3 3"/>
<line x1="4" y1="530.5" x2="1165" y2="530.5" stroke="#c0c0c0" stroke-width="1" stroke-dasharray="3 3"/>
<rect x="1166" y="482" width="2" height="1" fill="#000"/>
<rect x="1166" y="550" width="2" height="1" fill="#000"/>
</g>
<polyline points="3.5,509.8 11.5,522.4 19.5,522.2 27.5,518.2 35.5,520.2 43.5,516.2 51.5,521.2 59.5,521.4 67.5,519.4 75.5,518.4 83.5,517.2 91.5,525.4 99.5,527.2 107.5,527.2 115.5,527.2 123.5,531.1 131.5,533.3 139.5,533.3 147.5,528.3 155.5,531.1 163.5,532.1 171.5,533.3 179.5,533.3 187.5,534.3 195.5,534.3 203.5,523.4 211.5,524.4 219.5,524.4 227.5,520.2 235.5,521.2 243.5,522.2 251.5,522.2 259.5,522.2 267.5,524.2 275.5,525.4 283.5,517.2 291.5,521.2 299.5,519.2 307.5,519.2 315.5,521.2 323.5,523.4 331.5,519.8 339.5,516.2 347.5,522.2 355.5,523.4 363.5,519.4 371.5,518.2 379.5,515.2 387.5,515.2 395.5,517.2 403.5,515.2 411.5,515.2 419.5,516.4 427.5,512.2 435.5,516.2 443.5,511.2 451.5,512.4 459.5,518.4 467.5,520.4 475.5,517.4 483.5,518.4 491.5,513.4 499.5,513.4 507.5,516.4 515.5,513.4 523.5,508.4 531.5,507.3 539.5,511.2 547.5,511.2 555.5,511.2 563.5,518.4 571.5,517.2 579.5,519.4 587.5,517.4 595.5,517.4 603.5,518.4 611.5,520.4 619.5,525.4 627.5,530.3 635.5,530.3 643.5,529.3 651.5,521.2 659.5,518.4 667.5,516.4 675.5,507.5 683.5,507.5 691.5,507.5 699.5,508.4 707.5,510.2 715.5,510.2 723.5,511.8 731.5,517.4 739.5,515.4 747.5,519.4 755.5,515.4 763.5,514.4 771.5,515.4 779.5,517.2 787.5,518.4 795.5,519.4 803.5,517.4 811.5,519.2 819.5,527.2 827.5,520.4 835.5,525.4 843.5,522.4 851.5,525.8 859.5,527.2 867.5,529.1 875.5,533.1 883.5,534.7 891.5,535.3 899.5,531.7 907.5,520.2 915.5,523.4" fill="none" stroke="#1e90ff" stroke-width="1" shape-rendering="crispEdges"/>
<text transform="translate(6.83,493) scale(0.939,1)" font-size="10" fill="#000" stroke="#000" stroke-width="0.3">RSI(14)</text>
<text transform="translate(41.95,493) scale(0.926,1)" font-size="10" fill="#000" stroke="#000" stroke-width="0.3">39.5738</text>
<text transform="translate(1169.12,491) scale(0.890,1)" font-size="10" fill="#000" stroke="#000" stroke-width="0.3">100</text>
<text transform="translate(1169.34,506) scale(0.890,1)" font-size="10" fill="#000" stroke="#000" stroke-width="0.3">70</text>
<text transform="translate(1169.46,534) scale(0.890,1)" font-size="10" fill="#000" stroke="#000" stroke-width="0.3">30</text>
<text transform="translate(1169.45,548) scale(0.890,1)" font-size="10" fill="#000" stroke="#000" stroke-width="0.3">0</text>
<g shape-rendering="crispEdges">
<rect x="3" y="552" width="1" height="3" fill="#000"/>
<rect x="67" y="552" width="1" height="3" fill="#000"/>
<rect x="131" y="552" width="1" height="3" fill="#000"/>
<rect x="195" y="552" width="1" height="3" fill="#000"/>
<rect x="259" y="552" width="1" height="3" fill="#000"/>
<rect x="323" y="552" width="1" height="3" fill="#000"/>
<rect x="387" y="552" width="1" height="3" fill="#000"/>
<rect x="451" y="552" width="1" height="3" fill="#000"/>
<rect x="515" y="552" width="1" height="3" fill="#000"/>
<rect x="579" y="552" width="1" height="3" fill="#000"/>
<rect x="643" y="552" width="1" height="3" fill="#000"/>
<rect x="707" y="552" width="1" height="3" fill="#000"/>
<rect x="771" y="552" width="1" height="3" fill="#000"/>
<rect x="835" y="552" width="1" height="3" fill="#000"/>
<rect x="899" y="552" width="1" height="3" fill="#000"/>
</g>
<text transform="translate(2.03,564) scale(0.929,1)" font-size="10" fill="#000" stroke="#000" stroke-width="0.3">28 Oct 2021</text>
<text transform="translate(66.21,564) scale(0.951,1)" font-size="10" fill="#000" stroke="#000" stroke-width="0.3">7 Nov 2021</text>
<text transform="translate(130.59,564) scale(0.938,1)" font-size="10" fill="#000" stroke="#000" stroke-width="0.3">16 Nov 2021</text>
<text transform="translate(194.32,564) scale(0.946,1)" font-size="10" fill="#000" stroke="#000" stroke-width="0.3">25 Nov 2021</text>
<text transform="translate(257.93,564) scale(0.915,1)" font-size="10" fill="#000" stroke="#000" stroke-width="0.3">5 Dec 2021</text>
<text transform="translate(322.11,564) scale(0.900,1)" font-size="10" fill="#000" stroke="#000" stroke-width="0.3">14 Dec 2021</text>
<text transform="translate(385.94,564) scale(0.910,1)" font-size="10" fill="#000" stroke="#000" stroke-width="0.3">23 Dec 2021</text>
<text transform="translate(450.25,564) scale(0.901,1)" font-size="10" fill="#000" stroke="#000" stroke-width="0.3">2 Jan 2022</text>
<text transform="translate(514.22,564) scale(0.887,1)" font-size="10" fill="#000" stroke="#000" stroke-width="0.3">11 Jan 2022</text>
<text transform="translate(577.74,564) scale(0.921,1)" font-size="10" fill="#000" stroke="#000" stroke-width="0.3">20 Jan 2022</text>
<text transform="translate(641.95,564) scale(0.918,1)" font-size="10" fill="#000" stroke="#000" stroke-width="0.3">30 Jan 2022</text>
<text transform="translate(705.49,564) scale(0.942,1)" font-size="10" fill="#000" stroke="#000" stroke-width="0.3">8 Feb 2022</text>
<text transform="translate(769.89,564) scale(0.936,1)" font-size="10" fill="#000" stroke="#000" stroke-width="0.3">17 Feb 2022</text>
<text transform="translate(833.84,564) scale(0.919,1)" font-size="10" fill="#000" stroke="#000" stroke-width="0.3">27 Feb 2022</text>
<text transform="translate(897.89,564) scale(0.935,1)" font-size="10" fill="#000" stroke="#000" stroke-width="0.3">8 Mar 2022</text>
<g shape-rendering="crispEdges">
<rect x="0" y="572" width="1206" height="1" fill="#e9e9e9"/>
<rect x="0" y="576" width="1206" height="18" fill="#f0f0f0"/>
<rect x="0" y="574" width="105" height="1" fill="#000"/>
<rect x="211" y="574" width="995" height="1" fill="#000"/>
<rect x="103" y="575" width="110" height="18" fill="#fff"/>
<rect x="104" y="574" width="1" height="19" fill="#000"/>
<rect x="211" y="574" width="1" height="19" fill="#000"/>
<rect x="104" y="592" width="108" height="1" fill="#000"/>
<rect x="104" y="593" width="108" height="1" fill="#dcdcdc"/>
<rect x="0" y="595" width="1206" height="2" fill="#f0f0f0"/>
<rect x="320" y="577" width="1" height="13" fill="#6a6a6a"/>
<rect x="428" y="577" width="1" height="13" fill="#6a6a6a"/>
<rect x="536" y="577" width="1" height="13" fill="#6a6a6a"/>
<rect x="648" y="577" width="1" height="13" fill="#6a6a6a"/>
<rect x="748" y="577" width="1" height="13" fill="#6a6a6a"/>
<rect x="836" y="577" width="1" height="13" fill="#6a6a6a"/>
<rect x="924" y="577" width="1" height="13" fill="#6a6a6a"/>
<rect x="1008" y="577" width="1" height="13" fill="#6a6a6a"/>
<rect x="1088" y="577" width="1" height="13" fill="#6a6a6a"/>
</g>
<text transform="translate(14.95,589) scale(0.947,1)" font-size="13" fill="#757575" stroke="#757575" stroke-width="0">USDX,Weekly</text>
<text transform="translate(114.81,589) scale(0.929,1)" font-size="13" fill="#000" stroke="#000" stroke-width="0">EURUSD-,Daily</text>
<text transform="translate(222.78,589) scale(0.941,1)" font-size="13" fill="#757575" stroke="#757575" stroke-width="0">AUDUSD-,Daily</text>
<text transform="translate(332.08,589) scale(0.918,1)" font-size="13" fill="#757575" stroke="#757575" stroke-width="0">USDCHF-,Daily</text>
<text transform="translate(439.36,589) scale(0.933,1)" font-size="13" fill="#757575" stroke="#757575" stroke-width="0">USDCAD-,Daily</text>
<text transform="translate(548.05,589) scale(0.947,1)" font-size="13" fill="#757575" stroke="#757575" stroke-width="0">USDCNH-,Daily</text>
<text transform="translate(659.52,589) scale(0.963,1)" font-size="13" fill="#757575" stroke="#757575" stroke-width="0">XAUUSD-,M5</text>
<text transform="translate(758.08,589) scale(1.014,1)" font-size="13" fill="#757575" stroke="#757575" stroke-width="0">UKOil-,M30</text>
<text transform="translate(847.88,589) scale(0.959,1)" font-size="13" fill="#757575" stroke="#757575" stroke-width="0">DJ30-,Daily</text>
<text transform="translate(934.82,589) scale(0.980,1)" font-size="13" fill="#757575" stroke="#757575" stroke-width="0">UK100-,H1</text>
<text transform="translate(1019.82,589) scale(0.976,1)" font-size="13" fill="#757575" stroke="#757575" stroke-width="0">USOil-,H1</text>
<path d="M1184.2 580v6.2l-3.4-3.1z" fill="#8c8c8c"/>
<path d="M1199.8 580v6.2l3.4-3.1z" fill="#8c8c8c"/>
</svg></body></html>
